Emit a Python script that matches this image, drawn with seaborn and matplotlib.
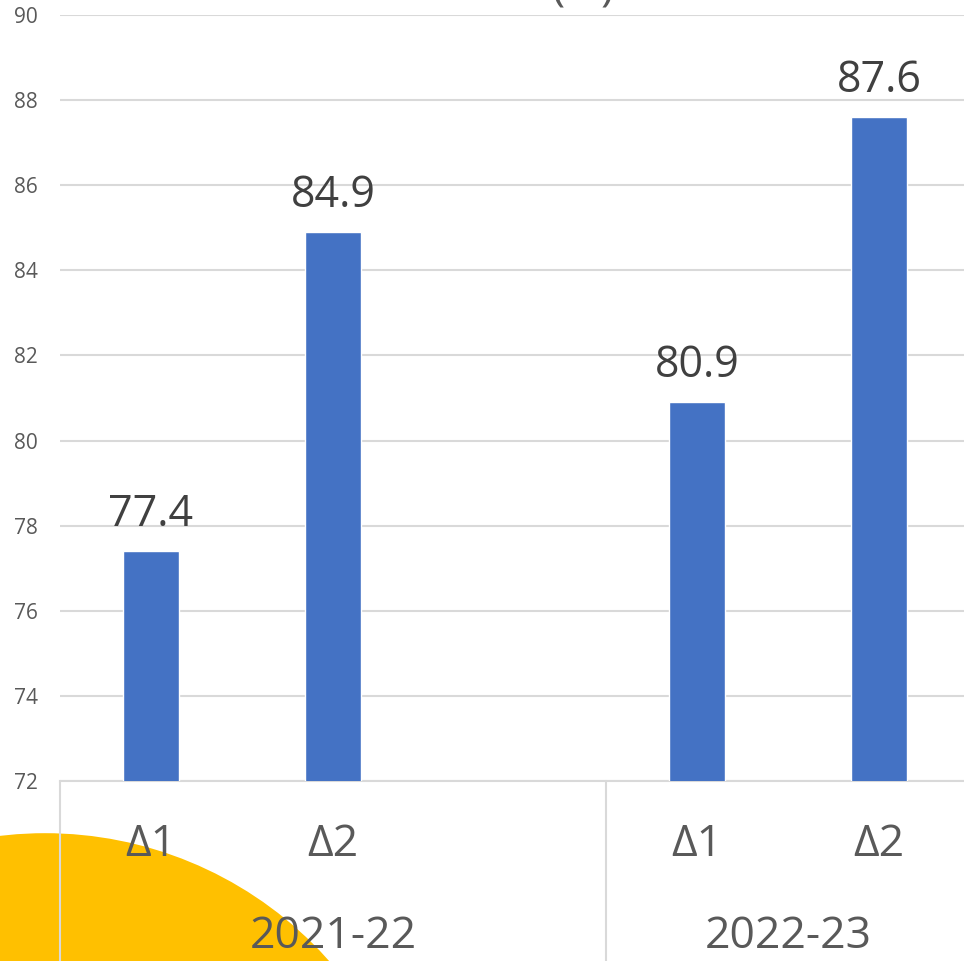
import matplotlib
matplotlib.use("Agg")
import matplotlib.pyplot as plt
from matplotlib.patches import Circle
import seaborn as sns
import pandas as pd

# data
years = ["2021-22", "2022-23"]
terms = ["Δ1", "Δ2"]
values_2021 = [77.4, 84.9]
values_2022 = [80.9, 87.6]
y_ticks = [72, 74, 76, 78, 80, 82, 84, 86, 88, 90]

BAR = "#4472C4"
TEXT = "#595959"
GRID = "#D9D9D9"
YELLOW = "#FFC000"

rows = []
for year, vals in zip(years, [values_2021, values_2022]):
    for term, v in zip(terms, vals):
        rows.append({"slot": f"{year} {term}", "value": v})
df = pd.DataFrame(rows)
# first year has a blank third slot
order = [f"{years[0]} {t}" for t in terms] + [f"{years[0]} _"] + [f"{years[1]} {t}" for t in terms]

sns.set_theme(style="white")
plt.rcParams["font.family"] = ["Open Sans", "DejaVu Sans"]

W, H = 964, 961
fig = plt.figure(figsize=(W / 100, H / 100), dpi=100)
fig.patch.set_facecolor("white")

# yellow decoration in the lower-left corner (behind the chart)
fig.patches.append(Circle((45 / W, (H - 1211) / H), 379 / W, transform=fig.transFigure,
                          facecolor=YELLOW, edgecolor="none", zorder=0))

left, bottom_px, top_px = 60, 781, 15
ax = fig.add_axes([left / W, (H - bottom_px) / H, 910 / W, (bottom_px - top_px) / H])
ax.set_facecolor("none")
ax.set_zorder(2)

sns.barplot(data=df, x="slot", y="value", order=order, color=BAR, width=0.31,
            saturation=1, ax=ax, zorder=3)
ax.set_ylim(72, 90)
ax.set_xlim(-0.5, 4.5)
ax.set_yticks(y_ticks)
ax.set_yticklabels([str(t) for t in y_ticks], fontsize=15, color=TEXT)
ax.tick_params(axis="y", length=0, pad=16)
ax.yaxis.grid(True, color=GRID, linewidth=1.5)
ax.set_axisbelow(True)

for c in ax.containers:
    ax.bar_label(c, fmt="%.1f", fontsize=31, color="#404040", padding=10)

# category axis: term labels, year labels, separators
ax.set_xticks([0, 1, 3, 4])
ax.set_xticklabels(terms * 2, fontsize=32, color=TEXT)
ax.tick_params(axis="x", length=0, pad=30)
ax.set_xlabel("")
ax.set_ylabel("")
for s in ["left", "right", "top"]:
    ax.spines[s].set_visible(False)
ax.spines["bottom"].set_color(GRID)
ax.spines["bottom"].set_linewidth(1.5)

trans = ax.get_xaxis_transform()
for xc, year in zip([1, 3.5], years):
    ax.text(xc, -0.203, year, transform=trans, ha="center", va="center",
            fontsize=32, color=TEXT, clip_on=False)
for xs in [-0.5, 2.5, 4.5]:
    ax.plot([xs, xs], [0, -0.3], transform=trans, color=GRID, linewidth=1.5, clip_on=False)

# title, mostly cut off by the top edge as in the reference
fig.text(583 / W, 1.0, "(%)", ha="center", va="baseline", fontsize=32, color=TEXT)

fig.savefig("out.png", dpi=100)
